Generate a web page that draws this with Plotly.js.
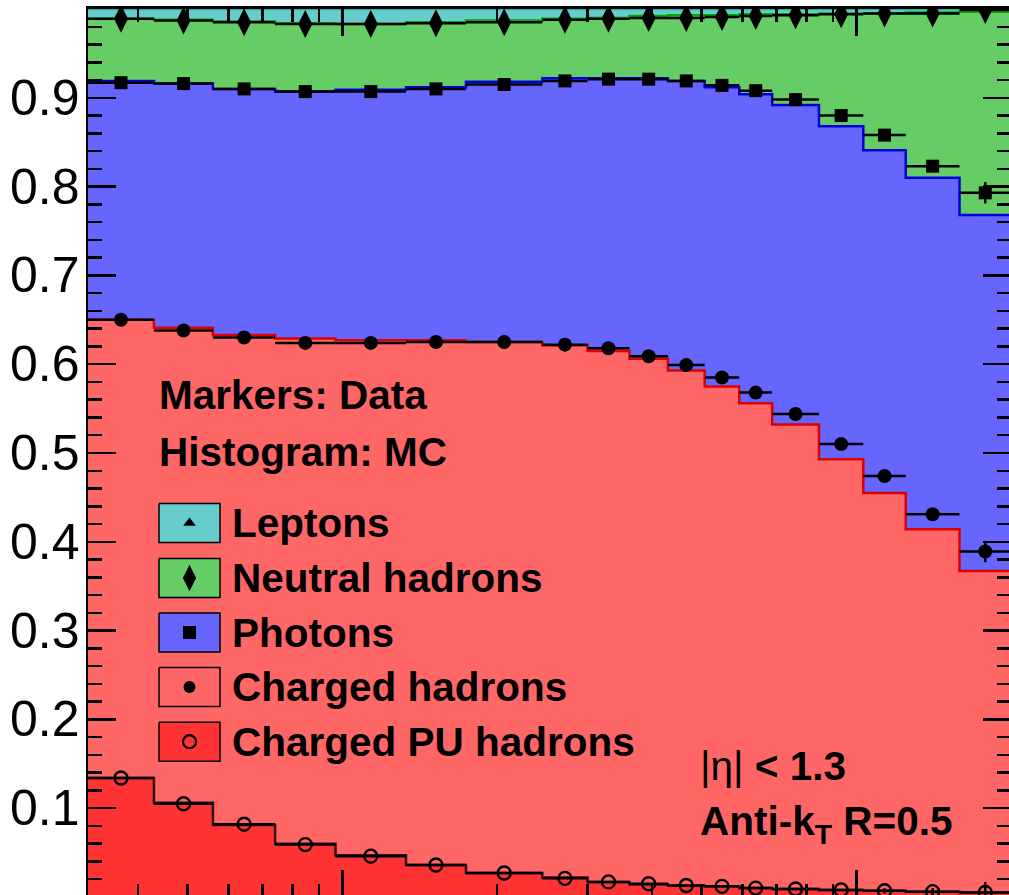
<!DOCTYPE html>
<html>
<head>
<meta charset="utf-8">
<script src="https://cdn.plot.ly/plotly-3.0.1.min.js"></script>
<style>
html, body { margin: 0; padding: 0; overflow: hidden; background: #ffffff; }
#chart { width: 1011px; height: 897px; }
</style>
</head>
<body>
<div id="chart"></div>
<script>
// ---- pT binning (GeV) ----
const binEdges = [32, 43, 56, 74, 97, 133, 174, 245, 300, 362, 430, 507, 592, 686, 846, 1032, 1248, 1588, 2000];
const binCenters = [37.1, 49.1, 64.4, 84.7, 113.6, 152.1, 206.5, 271.1, 329.5, 394.5, 466.9, 547.9, 637.3, 761.8, 934.4, 1134.9, 1407.8, 1782.1];

// ---- MC energy fractions (histograms) ----
const mcChargedPU = [0.134, 0.106, 0.081, 0.060, 0.047, 0.036, 0.027, 0.022, 0.017, 0.014, 0.013, 0.012, 0.010, 0.009, 0.008, 0.007, 0.006, 0.005];
const mcCharged   = [0.516, 0.535, 0.552, 0.569, 0.580, 0.591, 0.598, 0.599, 0.598, 0.592, 0.580, 0.563, 0.546, 0.523, 0.485, 0.448, 0.408, 0.362];
const mcPhotons   = [0.269, 0.275, 0.277, 0.278, 0.282, 0.285, 0.293, 0.301, 0.307, 0.316, 0.326, 0.337, 0.348, 0.360, 0.375, 0.386, 0.396, 0.401];
const mcNeutral   = [0.070, 0.072, 0.076, 0.077, 0.074, 0.073, 0.069, 0.067, 0.068, 0.070, 0.074, 0.081, 0.090, 0.102, 0.127, 0.154, 0.186, 0.229];
const mcLeptons   = [0.011, 0.012, 0.014, 0.016, 0.017, 0.015, 0.013, 0.011, 0.010, 0.008, 0.007, 0.007, 0.006, 0.006, 0.005, 0.005, 0.004, 0.003];

// ---- Data energy fractions (markers) ----
const dataChargedPU = [0.134, 0.105, 0.082, 0.059, 0.046, 0.036, 0.027, 0.021, 0.017, 0.015, 0.013, 0.012, 0.010, 0.009, 0.008, 0.007, 0.006, 0.005];
const dataCharged   = [0.516, 0.533, 0.548, 0.565, 0.578, 0.589, 0.598, 0.601, 0.601, 0.594, 0.586, 0.573, 0.558, 0.535, 0.502, 0.467, 0.425, 0.384];
const dataPhotons   = [0.267, 0.278, 0.280, 0.283, 0.283, 0.285, 0.290, 0.297, 0.303, 0.312, 0.320, 0.329, 0.340, 0.354, 0.370, 0.384, 0.392, 0.404];
const dataNeutral   = [0.072, 0.071, 0.075, 0.076, 0.076, 0.074, 0.070, 0.069, 0.068, 0.069, 0.071, 0.077, 0.084, 0.095, 0.114, 0.137, 0.172, 0.206];
const dataStatErr   = [0, 0, 0, 0, 0, 0, 0, 0, 0, 0, 0, 0, 0, 0, 0, 0.003, 0.004, 0.012];

// ---- labels ----
const yTickVals = [0.1, 0.2, 0.3, 0.4, 0.5, 0.6, 0.7, 0.8, 0.9];
const yTickText = ['0.1', '0.2', '0.3', '0.4', '0.5', '0.6', '0.7', '0.8', '0.9'];
const xMinorTicks = [40, 50, 60, 70, 80, 90, 200, 300, 400, 500, 600, 700, 800, 900];
const legendNames = ['Leptons', 'Neutral hadrons', 'Photons', 'Charged hadrons', 'Charged PU hadrons'];
const headerLines = ['Markers: Data', 'Histogram: MC'];
const infoLines = ['<span style="font-weight:normal">|η|</span> < 1.3', 'Anti-k<sub>T</sub> R=0.5'];

// ---- styles ----
const fillColors = ['#66cccc', '#66cc66', '#6666ff', '#ff6666', '#ff3333'];
const lineColors = ['#33aaaa', '#00aa00', '#0000dd', '#dd0000', '#331111'];
const symbols = ['triangle-up', 'diamond-tall', 'square', 'circle', 'circle-open'];
const FONT = 'Liberation Sans, Arial, Helvetica, sans-serif';

function cumulate(list) {
  const out = [];
  let run = list[0].map(() => 0);
  list.forEach(arr => { run = run.map((v, i) => v + arr[i]); out.push(run.slice()); });
  return out;
}

// stack order: bottom -> top
const mcStack = cumulate([mcChargedPU, mcCharged, mcPhotons, mcNeutral, mcLeptons]);
const dataStack = cumulate([dataChargedPU, dataCharged, dataPhotons, dataNeutral]);
const stackFill = [fillColors[4], fillColors[3], fillColors[2], fillColors[1], fillColors[0]];
const stackLine = [lineColors[4], lineColors[3], lineColors[2], lineColors[1], lineColors[0]];
const stackSym = [symbols[4], symbols[3], symbols[2], symbols[1]];

const traces = [];
mcStack.forEach((cum, k) => {
  traces.push({
    type: 'scatter', mode: 'lines',
    x: binEdges, y: cum.concat([cum[cum.length - 1]]),
    line: { shape: 'hv', color: stackLine[k], width: 2.5 },
    fill: k === 0 ? 'tozeroy' : 'tonexty',
    fillcolor: stackFill[k],
    hoverinfo: 'skip', showlegend: false
  });
});

const errPlus = binCenters.map((c, i) => binEdges[i + 1] - c);
const errMinus = binCenters.map((c, i) => c - binEdges[i]);
const markerSizes = { 'circle-open': 13, 'circle': 14, 'square': 13, 'diamond-tall': 20 };
dataStack.forEach((cum, k) => {
  const sym = stackSym[k];
  traces.push({
    type: 'scatter', mode: 'markers',
    x: binCenters, y: cum,
    marker: {
      symbol: sym, size: markerSizes[sym], color: '#000000', opacity: 1,
      line: { color: '#000000', width: sym === 'circle-open' ? 2.4 : 0 }
    },
    error_x: { type: 'data', symmetric: false, array: errPlus, arrayminus: errMinus,
               color: '#000000', thickness: 2.5, width: 0 },
    error_y: { type: 'data', array: dataStatErr, color: '#000000', thickness: 2.5, width: 0 },
    cliponaxis: true, hoverinfo: 'skip', showlegend: false
  });
});

// ---- custom ROOT-style legend on a pixel overlay axis ----
const legX0 = 159, legX1 = 220, legH = 39;
const legY = [523, 578, 632.5, 687, 741.7];
legendNames.forEach((name, i) => {
  const yc = legY[i];
  traces.push({
    type: 'scatter', mode: 'lines', xaxis: 'x2', yaxis: 'y2',
    x: [legX0, legX1, legX1, legX0, legX0],
    y: [yc - legH / 2, yc - legH / 2, yc + legH / 2, yc + legH / 2, yc - legH / 2],
    fill: 'toself', fillcolor: fillColors[i],
    line: { color: '#000000', width: 1.5 },
    hoverinfo: 'skip', showlegend: false
  });
});
const legSizes = [11, 19, 13, 12, 13];
symbols.forEach((sym, i) => {
  traces.push({
    type: 'scatter', mode: 'markers', xaxis: 'x2', yaxis: 'y2',
    x: [(legX0 + legX1) / 2], y: [legY[i]],
    marker: { symbol: sym, size: legSizes[i], color: '#000000', opacity: 1,
              line: { color: '#000000', width: sym === 'circle-open' ? 2.2 : 0 } },
    hoverinfo: 'skip', showlegend: false
  });
});

const annotations = [];
yTickVals.forEach((v, i) => {
  annotations.push({ xref: 'paper', yref: 'y', x: -7 / 923, y: v, text: yTickText[i],
    showarrow: false, xanchor: 'right', yanchor: 'middle', borderpad: 0,
    font: { family: FONT, size: 50, color: '#000' } });
});
headerLines.forEach((t, i) => {
  annotations.push({ xref: 'x2', yref: 'y2', x: 157, y: [395, 452][i], text: '<b>' + t + '</b>',
    showarrow: false, xanchor: 'left', yanchor: 'middle', font: { family: FONT, size: 40.5, color: '#000' } });
});
legendNames.forEach((t, i) => {
  annotations.push({ xref: 'x2', yref: 'y2', x: 230, y: legY[i], text: '<b>' + t + '</b>',
    showarrow: false, xanchor: 'left', yanchor: 'middle', font: { family: FONT, size: 40.5, color: '#000' } });
});
infoLines.forEach((t, i) => {
  annotations.push({ xref: 'x2', yref: 'y2', x: 698, y: [766, 824][i], text: '<b>' + t + '</b>',
    showarrow: false, xanchor: 'left', yanchor: 'middle', font: { family: FONT, size: 40.5, color: '#000' } });
});

const layout = {
  width: 1011, height: 897, autosize: false,
  margin: { l: 88, r: 0, t: 9, b: 0, pad: 0 },
  paper_bgcolor: '#ffffff', plot_bgcolor: '#ffffff',
  showlegend: false,
  font: { family: FONT, color: '#000000' },
  xaxis: {
    type: 'log', range: [Math.log10(32), Math.log10(2000)],
    tickmode: 'array', tickvals: [100, 1000], showticklabels: false,
    ticks: 'inside', ticklen: 27, tickwidth: 2.5, tickcolor: '#000',
    minor: { tickmode: 'array', tickvals: xMinorTicks, ticks: 'inside', ticklen: 13, tickwidth: 2.5, tickcolor: '#000' },
    showline: true, linecolor: '#000', linewidth: 3, mirror: 'allticks',
    showgrid: false, zeroline: false, fixedrange: true
  },
  yaxis: {
    range: [0, 1],
    tickmode: 'array', tickvals: yTickVals, showticklabels: false,
    ticks: 'inside', ticklen: 28, tickwidth: 2.5, tickcolor: '#000',
    minor: { dtick: 0.02, tick0: 0, ticks: 'inside', ticklen: 14, tickwidth: 2.5, tickcolor: '#000' },
    showline: true, linecolor: '#000', linewidth: 2.5, mirror: 'allticks',
    showgrid: false, zeroline: false, fixedrange: true
  },
  xaxis2: { overlaying: 'x', range: [88, 1011], visible: false, fixedrange: true },
  yaxis2: { overlaying: 'y', range: [897, 9], visible: false, fixedrange: true },
  annotations: annotations
};

Plotly.newPlot('chart', traces, layout, { staticPlot: true, displayModeBar: false });
</script>
</body>
</html>
